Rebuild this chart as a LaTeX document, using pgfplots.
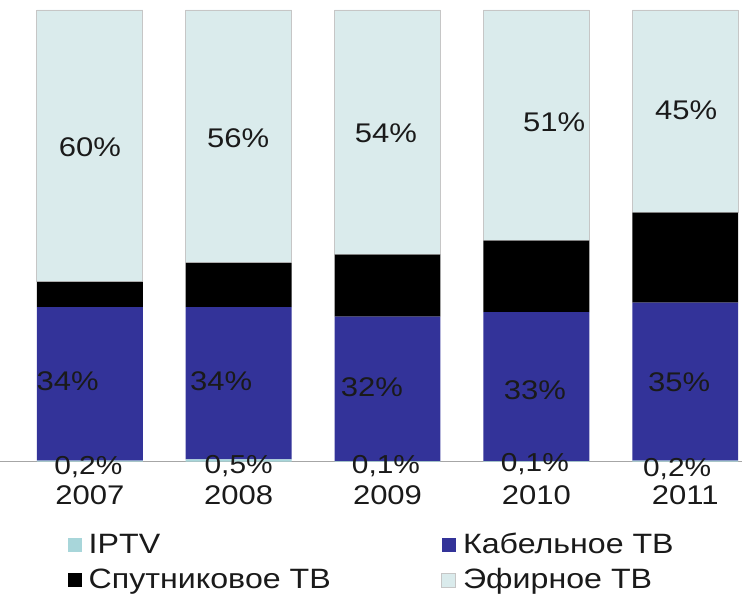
\documentclass[border=0pt]{standalone}
\usepackage{pgfplots}
\pgfplotsset{compat=1.18}
\usepackage{pgfplotstable}
\usepackage{fontspec}
\setmainfont{Liberation Sans}[FakeStretch=1.15]
\definecolor{iptv}{HTML}{A8D6DA}
\definecolor{cable}{HTML}{333399}
\definecolor{sat}{HTML}{000000}
\definecolor{ether}{HTML}{DAEBEC}
\definecolor{lbl}{HTML}{1A1A1A}
\tikzset{
  vlab/.style={font=\fontsize{13.5}{16}\selectfont, text=lbl, anchor=center, inner sep=0pt},
  ilab/.style={font=\fontsize{13}{15}\selectfont, text=lbl, anchor=center, inner sep=0pt},
}
\pgfplotsset{
  common/.style={
    at={(0,0)}, anchor=south west,
    scale only axis, width=371pt, height=226pt,
    xmin=-0.6007, xmax=4.379, ymin=0, ymax=100,
    clip=false,
  }
}

\pgfplotstableread{
x iptv cable sat ether
0 0.2 34 5.6 60.2
1 0.5 33.7 9.8 56.0
2 0.1 32 13.7 54.2
3 0.1 33 15.8 51.1
4 0.2 35 19.9 44.9
}\datatab

\begin{document}
\begin{tikzpicture}
\begin{axis}[
  common,
  ybar stacked, bar width=53pt,
  axis x line=bottom, axis y line=none,
  x axis line style={-, draw=gray!70},
  xtick={0,1,2,3,4}, xticklabels={2007,2008,2009,2010,2011},
  xtick style={draw=none},
  xticklabel style={anchor=center, yshift=-14.5pt, font=\fontsize{13.5}{16}\selectfont, text=lbl},
  legend columns=2,
  legend cell align=left,
  legend style={at={(0.0903,-0.1460)}, anchor=north west, draw=none, fill=none, inner sep=0pt,
    font=\fontsize{14}{17}\selectfont,
    nodes={text height=11.5pt, text depth=3pt, inner sep=1.5pt, text=lbl},
    row sep=0pt, column sep=2pt},
  legend image code/.code={\fill[#1] (0pt,-3.5pt) rectangle (7pt,3.5pt);},
]
\addplot[fill=iptv, draw=none] table[x=x,y=iptv]{\datatab};
\addlegendentry{\makebox[173pt][l]{IPTV}}
\addplot[fill=cable, draw=none] table[x=x,y=cable]{\datatab};
\addlegendentry{Кабельное ТВ}
\addplot[fill=sat, draw=none] table[x=x,y=sat]{\datatab};
\addlegendentry{\makebox[173pt][l]{Спутниковое ТВ}}
\addplot[fill=ether, draw=gray!45] table[x=x,y=ether]{\datatab};
\addlegendentry{Эфирное ТВ}
\end{axis}
\begin{axis}[common, hide axis]
\addplot[draw=none, forget plot] coordinates {(0,0)};
\node[vlab] at (axis cs:0,69.7) {60\%};
\node[vlab] at (axis cs:0.997,71.5) {56\%};
\node[vlab] at (axis cs:1.99,72.7) {54\%};
\node[vlab] at (axis cs:3.12,75.2) {51\%};
\node[vlab] at (axis cs:4.007,77.9) {45\%};
\node[vlab] at (axis cs:-0.148,17.7) {34\%};
\node[vlab] at (axis cs:0.883,17.7) {34\%};
\node[vlab] at (axis cs:1.896,16.5) {32\%};
\node[vlab] at (axis cs:2.99,15.7) {33\%};
\node[vlab] at (axis cs:3.96,17.6) {35\%};
\node[ilab] at (axis cs:-0.01,-1.2) {0,2\%};
\node[ilab] at (axis cs:1,-1.0) {0,5\%};
\node[ilab] at (axis cs:1.99,-1.0) {0,1\%};
\node[ilab] at (axis cs:2.99,-0.6) {0,1\%};
\node[ilab] at (axis cs:3.946,-1.6) {0,2\%};
\end{axis}
\useasboundingbox (0,-68pt) rectangle (371pt,231pt);
\end{tikzpicture}
\end{document}
